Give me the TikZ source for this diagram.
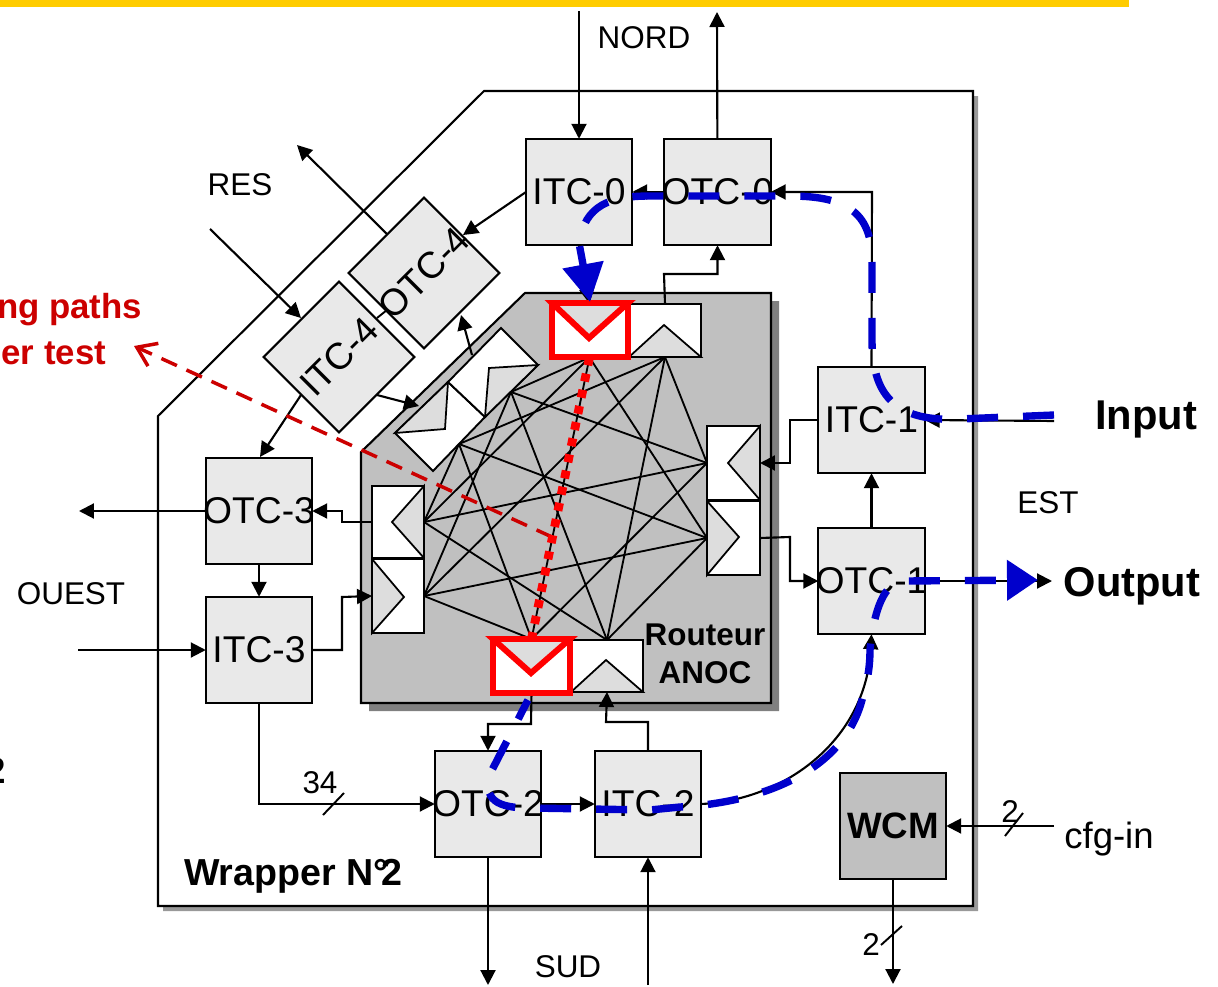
\documentclass[tikz,border=0pt]{standalone}
\usepackage{fontspec}
\setmainfont{Liberation Sans}
\usepackage{xcolor}
\usetikzlibrary{arrows.meta,shapes,positioning}
\definecolor{barcol}{HTML}{FFCC00}
\definecolor{boxcol}{HTML}{E9E9E9}
\definecolor{rtrcol}{HTML}{C0C0C0}
\definecolor{tricol}{HTML}{DDDDDD}
\definecolor{pathcol}{HTML}{0000CC}
\definecolor{notecol}{HTML}{CC0000}
\newcommand{\lbl}[1]{\makebox[0pt][c]{\raisebox{-0.5pt}{#1}}}
\tikzset{
    every node/.style={inner sep=0pt,outer sep=0pt},
    tcbox/.style={rectangle,draw,line width=1.2pt,fill=boxcol,minimum width=2.13cm,minimum height=2.13cm,font=\fontsize{21.2}{24}\selectfont},
    portbox/.style={rectangle,draw,line width=1.1pt,fill=white,minimum width=#1},
    txt/.style={font=\fontsize{17.9}{21}\selectfont},
    boldtxt/.style={font=\fontsize{23.7}{28}\selectfont\bfseries},
    link/.style={line width=1.2pt,-{Triangle[length=0.3cm,width=0.3cm]}},
    wire/.style={line width=1.1pt},
    mesh/.style={line width=1.05pt},
    tri/.style={draw,line width=1pt,fill=tricol},
    route/.style={draw=pathcol,line width=4.2pt,dash pattern=on 0.62cm off 0.5cm},
}
\begin{document}
\begin{tikzpicture}[x=0.02cm,y=-0.02cm]
    \useasboundingbox (0,0) rectangle (1218,987);
    \fill[barcol] (0,0) rectangle (1129,7);

    % wrapper
    \fill[gray!80] (489,96) -- (978,96) -- (978,911) -- (163,911) -- (163,421) -- cycle;
    \draw[line width=1.2pt,fill=white] (484,91) -- (973,91) -- (973,906) -- (158,906) -- (158,416) -- cycle;

    % router
    \fill[gray] (533,301) -- (779,301) -- (779,711) -- (369,711) -- (369,460) -- cycle;
    \draw[line width=1.2pt,fill=rtrcol] (525,293) -- (771,293) -- (771,703) -- (361,703) -- (361,452) -- cycle;

    % interface controllers
    \node[tcbox] (itc0) at (579,192) {\lbl{ITC-0}};
    \node[tcbox] (otc0) at (717.5,192) {\lbl{OTC-0}};
    \node[tcbox] (itc1) at (871.5,420) {\lbl{ITC-1}};
    \node[tcbox] (otc1) at (871.5,581) {\lbl{OTC-1}};
    \node[tcbox] (itc2) at (648,804) {\lbl{ITC-2}};
    \node[tcbox] (otc2) at (488,804) {\lbl{OTC-2}};
    \node[tcbox] (itc3) at (259,650) {\lbl{ITC-3}};
    \node[tcbox] (otc3) at (259,511) {\lbl{OTC-3}};
    \node[tcbox,rotate=45] (itc4) at (339,357) {\lbl{ITC-4}};
    \node[tcbox,rotate=45] (otc4) at (424,273) {\lbl{OTC-4}};
    \node[tcbox,fill=rtrcol,font=\fontsize{20.9}{24}\selectfont\bfseries] (wcm) at (893,826) {WCM};

    % router ports
    \node[portbox=1.44cm,minimum height=1.06cm] (topout) at (665,330.5) {};
    \node[portbox=1.44cm,minimum height=1.04cm] (botout) at (607,666) {};
    \node[portbox=1.04cm,minimum height=1.44cm] (leftout) at (398,522) {};
    \node[portbox=1.04cm,minimum height=1.48cm] (leftin) at (398,596) {};
    \node[portbox=1.06cm,minimum height=1.48cm] (rightout) at (733.5,463) {};
    \node[portbox=1.06cm,minimum height=1.48cm] (rightin) at (733.5,538) {};
    \node[portbox=1.54cm,minimum height=1.08cm,draw=none] (topin) at (589.5,330.5) {};
    \node[portbox=1.54cm,minimum height=1.08cm,draw=none] (botin) at (531.5,666) {};

    \draw[tri] (629,357) -- (664,325) -- (701,357) -- cycle;
    \draw[tri] (571,692) -- (606,660) -- (643,692) -- cycle;
    \draw[tri] (424,486) -- (392,522) -- (424,558) -- cycle;
    \draw[tri] (372,559) -- (404,597) -- (372,633) -- cycle;
    \draw[tri] (760,426) -- (728,463) -- (760,500) -- cycle;
    \draw[tri] (707,501) -- (739,537) -- (707,575) -- cycle;

    % diagonal port pair
    \draw[line width=1.1pt,fill=white] (395,433) -- (448,382) -- (485,417) -- (433,471) -- cycle;
    \draw[line width=1.1pt,fill=white] (448,382) -- (501,328) -- (538,365) -- (485,417) -- cycle;
    \draw[tri] (395,433) -- (448,382) -- (445,429) -- cycle;
    \draw[tri] (538,365) -- (489,368) -- (485,417) -- cycle;

    % crossbar
    \coordinate (t1) at (topin.south);
    \coordinate (t2) at (topout.south);
    \coordinate (b1) at (botin.north);
    \coordinate (b2) at (botout.north);
    \coordinate (l1) at (leftout.east);
    \coordinate (l2) at (leftin.east);
    \coordinate (r1) at (rightout.west);
    \coordinate (r2) at (rightin.west);
    \coordinate (d1) at (459,444);
    \coordinate (d2) at (511,392);
    \foreach \a/\b in {r1/d2,r1/l1,r1/t2,r1/b1,d1/r2,d1/l1,d1/t2,d1/b1,l2/r2,l2/d2,l2/t2,l2/b1,
                       t1/r2,t1/d2,t1/l1,t1/b1,b2/r2,b2/d2,b2/l1,b2/t2}
        \draw[mesh] (\a) -- (\b);

    % connectors
    \coordinate (nordin) at (579,11);
    \coordinate (nordout) at (717,12);
    \coordinate (resin) at (210,229);
    \coordinate (resout) at (297,145);
    \coordinate (ouestout) at (79,511);
    \coordinate (ouestin) at (78,650);
    \coordinate (sudout) at (488,985);
    \coordinate (sudin) at (648,985);
    \coordinate (estin) at (1054,421);
    \coordinate (estout) at (1052,581);
    \coordinate (cfgin) at (1054,826);
    \coordinate (cfgout) at (893,984);
    \coordinate (noteend) at (134,346);
    \coordinate (notestart) at (552,537);

    \draw[link] (nordin) -- (itc0);
    \draw[link] (otc0) -- (nordout);
    \draw[link] (otc0.west) -- (itc0.east);
    \draw[link] (itc0.south) -- (topin.north);
    \draw[link] (itc1.north) -- (872,192) -- (otc0.east);
    \draw[link] (topout.north) -- (664,274) -- (717.5,274) -- (otc0.south);
    \draw[link] (526,192) -- (463,235);
    \draw[link] (387,234) -- (resout);
    \draw[link] (resin) -- (301,318);
    \draw[wire] (377,318) -- (387,310);
    \draw[link] (472,355) -- (461,315);
    \draw[link] (377,395) -- (419,406);
    \draw[link] (301,395) -- (260,457);
    \draw[link] (otc3) -- (ouestout);
    \draw[link] (leftout.west) -- (342,522) -- (342,511) -- (otc3.east);
    \draw[link] (otc3) -- (itc3);
    \draw[link] (ouestin) -- (itc3.west);
    \draw[link] (itc3.east) -- (342,650) -- (342,597) -- (leftin.west);
    \draw[link] (itc3.south) -- (259,804) -- (otc2.west);
    \draw[link] (otc2) -- (itc2);
    \draw[link] (itc2.north) -- (648,722) -- (606,722) -- (botout.south);
    \draw[link] (botin.south) -- (531,724) -- (488,724) -- (otc2.north);
    \draw[link] (otc2.south) -- (sudout);
    \draw[link] (sudin) -- (itc2.south);
    \draw[link] (itc2.east) .. controls (785,800) and (866,740) .. (otc1.south);
    \draw[link] (rightin.east) -- (790,537) -- (790,581) -- (otc1.west);
    \draw[link] (otc1) -- (itc1);
    \draw[link] (itc1.west) -- (790,420) -- (790,463) -- (rightout.east);
    \draw[link] (estin) -- (itc1.east);
    \draw[link] (otc1.east) -- (estout);
    \draw[link] (cfgin) -- (wcm.east);
    \draw[link] (wcm.south) -- (cfgout);

    % bus ticks
    \draw[wire] (323,815) -- (344,793);
    \draw[wire] (1005,836) -- (1023,813);
    \draw[wire] (881,945) -- (902,926);

    % red ports
    \draw[line width=3.4pt,draw=red,fill=white] (552,303) rectangle (628,357);
    \draw[line width=3.4pt,draw=red,fill=white] (493,639) rectangle (570,693);
    \draw[line width=3.4pt,draw=red,fill=tricol] (552,303) -- (589,338) -- (628,303) -- cycle;
    \draw[line width=3.4pt,draw=red,fill=tricol] (493,639) -- (531,673) -- (570,639) -- cycle;

    % labels
    \node[txt] (nord) at (644,37.5) {NORD};
    \node[txt] (res) at (240,185) {RES};
    \node[txt] (ouest) at (71,594) {OUEST};
    \node[txt] (sud) at (568,967) {SUD};
    \node[txt] (est) at (1048,503) {EST};
    \node[boldtxt] (input) at (1146,419) {Input};
    \node[boldtxt] (output) at (1132,586) {Output};
    \node[font=\fontsize{20.8}{24}\selectfont] (cfg) at (1109,839) {cfg-in};
    \node[txt] (w34) at (320,783) {34};
    \node[txt] (w2a) at (1010,812) {2};
    \node[txt] (w2b) at (871,945) {2};
    \node[font=\fontsize{21.4}{24}\selectfont\bfseries] (wrapper) at (293,876) {Wrapper N°\kern-.2em 2};
    \node[font=\fontsize{17.9}{21.5}\selectfont\bfseries,align=center] (rtr) at (705,653.5) {Routeur\\ANOC};
    \node[font=\fontsize{19.8}{24}\selectfont\bfseries,text=notecol,anchor=east] (note1) at (142,310) {ng paths};
    \node[font=\fontsize{19.8}{24}\selectfont\bfseries,text=notecol,anchor=east] (note2) at (106,353) {er test};
    \node[font=\fontsize{20.9}{24}\selectfont\bfseries,anchor=east] (num) at (6,771) {2};

    % test paths
    \draw[notecol,line width=2pt,dash pattern=on 0.34cm off 0.21cm,-{Straight Barb[length=0.36cm,width=0.5cm]}] (notestart) -- (noteend);
    \draw[red,line width=5pt,dash pattern=on 0.16cm off 0.17cm] (t1) -- (b1);
    \draw[route,-{Triangle[length=0.76cm,width=0.8cm]}] (1054,415) -- (960,419) .. controls (900,422) and (872,400) .. (872,340) -- (872,262)
        .. controls (872,215) and (850,196) .. (790,196) -- (650,196) .. controls (610,196) and (585,205) .. (579,243) -- (590,302);
    \draw[route,dash phase=0.19cm,-{Triangle[length=0.62cm,width=0.78cm]}] (528,700) -- (491,772) .. controls (482,800) and (497,808) .. (530,808) -- (650,810) -- (680,807)
        .. controls (755,803) and (842,775) .. (862,700) .. controls (868,680) and (870,665) .. (870,650) .. controls (874,610) and (884,581) .. (905,581) -- (1038,580);
\end{tikzpicture}
\end{document}
